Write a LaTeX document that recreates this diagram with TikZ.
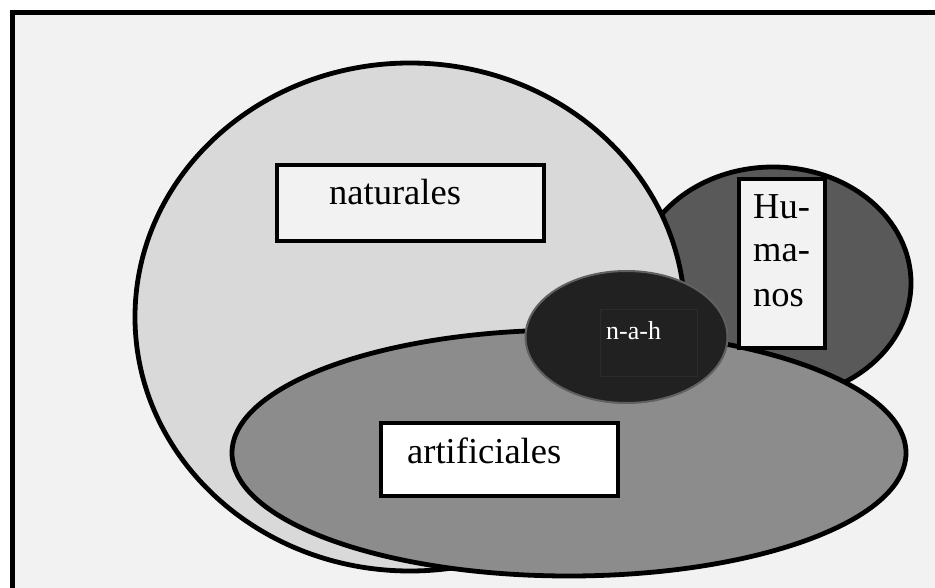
\documentclass[tikz,border=0pt]{standalone}
\usepackage{fontspec}
\setmainfont{Liberation Serif}
\usetikzlibrary{shapes.geometric}
\definecolor{bgc}{HTML}{F2F2F2}
\definecolor{natc}{HTML}{D9D9D9}
\definecolor{humc}{HTML}{595959}
\definecolor{artc}{HTML}{8C8C8C}
\definecolor{nahc}{HTML}{212121}
\definecolor{nahb}{HTML}{606060}
\definecolor{nahr}{HTML}{2B2B2B}
\tikzset{
  setbox/.style={ellipse, draw=black, line width=4.8pt, inner sep=0pt},
  labelbox/.style={rectangle, draw=black, line width=4.8pt, inner sep=0pt},
  bigtxt/.style={anchor=base west, inner sep=0pt, font=\fontsize{36.5}{43}\selectfont},
}
\begin{document}
\begin{tikzpicture}[x=1pt,y=-1pt]
\useasboundingbox (0,0) rectangle (935,588);
% frame
\fill[white] (0,0) rectangle (935,588);
\fill[bgc] (12.5,12.5) rectangle (945,600);
\draw[line width=5pt, line cap=rect] (12.5,600) -- (12.5,12.5) -- (945,12.5);
% sets
\node[setbox, fill=humc, minimum width=276pt, minimum height=232pt] (hum) at (773,283) {};
\node[setbox, fill=natc, minimum width=550pt, minimum height=508pt] (nat) at (410,317) {};
\node[setbox, fill=artc, minimum width=674pt, minimum height=246pt] (art) at (569,453) {};
\node[ellipse, draw=nahb, fill=nahc, line width=2pt, inner sep=0pt, minimum width=202pt, minimum height=132pt] (nah) at (626.5,337) {};
\node[rectangle, draw=nahr, line width=1pt, inner sep=0pt, minimum width=97pt, minimum height=66pt] (nahrect) at (648.5,343) {};
% label boxes
\node[labelbox, fill=bgc, minimum width=267pt, minimum height=76pt] (natbox) at (410.5,203) {};
\node[labelbox, fill=white, minimum width=237pt, minimum height=73pt] (artbox) at (499.5,459.5) {};
\node[labelbox, fill=bgc, minimum width=86pt, minimum height=169pt] (humbox) at (782,263.5) {};
% texts
\node[bigtxt] (natt) at (329,205) {naturales};
\node[bigtxt] (artt) at (407,463) {artificiales};
\node[bigtxt] (hum1) at (753,219) {Hu-};
\node[bigtxt] (hum2) at (753,262) {ma-};
\node[bigtxt] (hum3) at (753,306) {nos};
\node[anchor=base west, inner sep=0pt, text=white, font=\fontsize{26}{30}\selectfont] (naht) at (606,339) {n-a-h};
\end{tikzpicture}
\end{document}
